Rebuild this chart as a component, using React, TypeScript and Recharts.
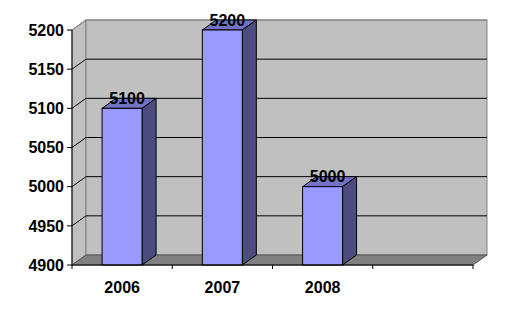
import { BarChart, Bar, XAxis, YAxis, CartesianGrid, LabelList } from "recharts";

const years = ["2006", "2007", "2008", ""];
const sales = [5100, 5200, 5000, null];
const valueTicks = [4900, 4950, 5000, 5050, 5100, 5150, 5200];

const data = years.map((year, i) => ({ year, value: sales[i] }));

const W = 496;
const H = 300;
const M = { top: 22, right: 31, left: 0, bottom: 13 };
const AXIS_W = 64;
const AXIS_H = 30;
// depth of the 3d effect
const DX = 14;
const DY = -10;

const font = "Arial, 'Liberation Sans', sans-serif";

const Bar3D = (props: any) => {
  const { x, y, width, height } = props;
  if (!height || height <= 0) return null;
  return (
    <g stroke="#000" strokeWidth={1}>
      <polygon
        points={`${x},${y} ${x + DX},${y + DY} ${x + width + DX},${y + DY} ${x + width},${y}`}
        fill="#7373C6"
      />
      <polygon
        points={`${x + width},${y} ${x + width + DX},${y + DY} ${x + width + DX},${y + height + DY} ${x + width},${y + height}`}
        fill="#4C4C80"
      />
      <rect x={x} y={y} width={width} height={height} fill="#9999FF" />
    </g>
  );
};

const BarLabel = (props: any) => {
  const { x, y, width, value } = props;
  if (value == null) return null;
  return (
    <text
      x={x + width / 2 + 5}
      y={y + DY}
      textAnchor="middle"
      dominantBaseline="central"
      fontFamily={font}
      fontWeight="bold"
      fontSize={16}
      fill="#000"
    >
      {value}
    </text>
  );
};

const GridLine = (props: any) => {
  const { x1, y1, x2, y2, y, height } = props;
  if (Math.abs(y1 - (y + height)) < 0.5) return <g key={props.key} />;
  const top = Math.abs(y1 - y) < 0.5;
  const c = top ? "#808080" : "#000";
  return (
    <g key={props.key}>
      <line x1={x1 + DX} y1={y1 + DY} x2={x2 + DX} y2={y2 + DY} stroke={c} />
      <line x1={x1} y1={y1} x2={x1 + DX} y2={y1 + DY} stroke={c} />
    </g>
  );
};

// label under the slot centre, tick marks on the slot borders
const YearTick = (props: any) => {
  const { x, y, payload, index } = props;
  const band = (W - M.left - M.right - AXIS_W) / years.length;
  const top = H - M.bottom - AXIS_H;
  const left = x - band / 2;
  return (
    <g>
      <line x1={left} y1={top} x2={left} y2={top + 4} stroke="#000" />
      {index === years.length - 1 && (
        <line x1={left + band} y1={top} x2={left + band} y2={top + 4} stroke="#000" />
      )}
      <text
        x={x}
        y={y}
        dy="0.71em"
        textAnchor="middle"
        fill="#000"
        fontFamily={font}
        fontWeight="bold"
        fontSize={16}
      >
        {payload.value}
      </text>
    </g>
  );
};

function Walls() {
  const px = M.left + AXIS_W;
  const py = M.top;
  const pw = W - M.left - M.right - AXIS_W;
  const ph = H - M.top - M.bottom - AXIS_H;
  const bottom = py + ph;
  return (
    <svg width={W} height={H} style={{ position: "absolute", left: 0, top: 0 }}>
      <polygon
        points={`${px},${py} ${px + DX},${py + DY} ${px + DX},${bottom + DY} ${px},${bottom}`}
        fill="#C0C0C0"
        stroke="#808080"
      />
      <rect x={px + DX} y={py + DY} width={pw} height={ph} fill="#C0C0C0" stroke="#808080" />
      <polygon
        points={`${px},${bottom} ${px + DX},${bottom + DY} ${px + pw + DX},${bottom + DY} ${px + pw},${bottom}`}
        fill="#808080"
        stroke="#555"
      />
    </svg>
  );
}

export default function App() {
  return (
    <div style={{ position: "relative", width: W, height: H }}>
      <Walls />
      <div style={{ position: "relative" }}>
        <BarChart width={W} height={H} data={data} margin={M} barCategoryGap="30%">
          <CartesianGrid vertical={false} horizontal={GridLine} stroke="#000" />
          <XAxis
            dataKey="year"
            height={AXIS_H}
            axisLine={{ stroke: "#000" }}
            tickLine={false}
            tickMargin={11}
            tick={YearTick}
            interval={0}
          />
          <YAxis
            width={AXIS_W}
            domain={[4900, 5200]}
            ticks={valueTicks}
            tickSize={5}
            tickMargin={3}
            axisLine={{ stroke: "#000" }}
            tickLine={{ stroke: "#000" }}
            tick={{ fill: "#000", fontFamily: font, fontWeight: "bold", fontSize: 16 }}
          />
          <Bar dataKey="value" shape={Bar3D} isAnimationActive={false}>
            <LabelList dataKey="value" content={BarLabel} />
          </Bar>
        </BarChart>
      </div>
    </div>
  );
}
